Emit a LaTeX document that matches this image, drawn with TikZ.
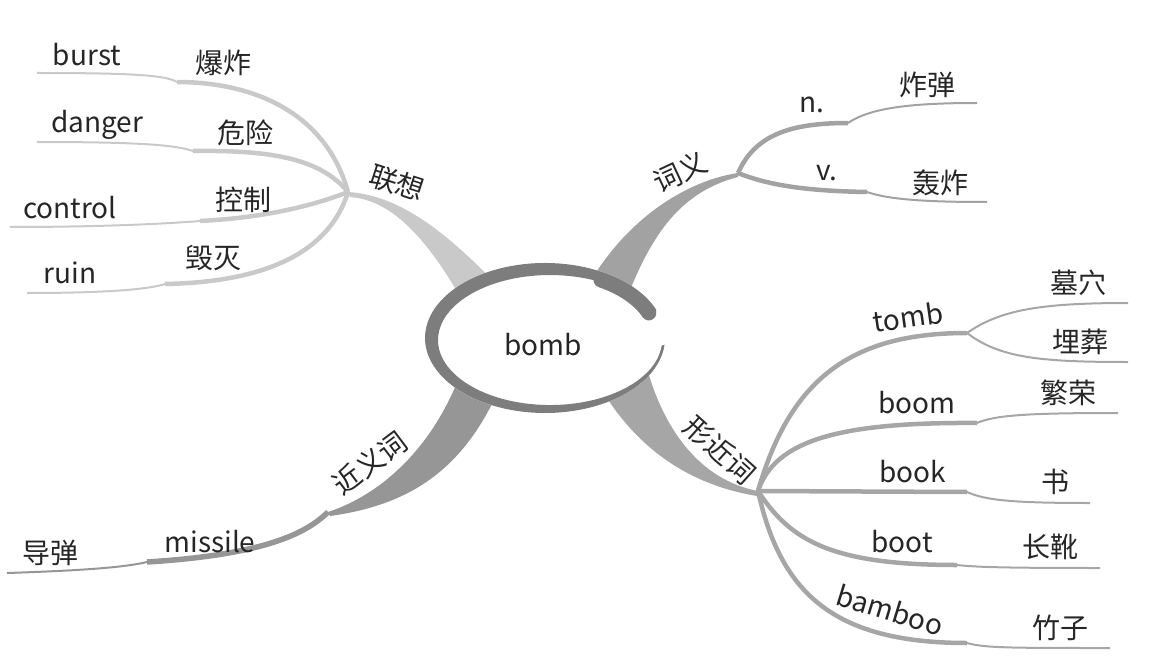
\documentclass[tikz,border=0pt]{standalone}
\usepackage{fontspec}
\setmainfont{Noto Sans CJK SC}
\definecolor{ringgray}{HTML}{7D7D7D}
\definecolor{assoc}{HTML}{C9C9C9}
\definecolor{sense}{HTML}{A2A2A2}
\definecolor{form}{HTML}{A6A6A6}
\definecolor{syn}{HTML}{969696}
\begin{document}
\begin{tikzpicture}[x=1pt, y=-1pt,
    every node/.style={font=\fontsize{28}{30}\selectfont, inner sep=0pt, text=black!85},
    twig/.style={line width=4.5pt},
    tip/.style={line width=2pt}]
    \useasboundingbox (0,0) rectangle (1153,671);

    % 分支点
    \coordinate (lx) at (348,192);
    \coordinate (cy) at (738,173);
    \coordinate (xj) at (758,491);
    \coordinate (jy) at (328,512);
    \coordinate (tb) at (967,333);

    % 主干
    \fill[assoc] (lx) .. controls (395,195) and (440,225) .. (500,288) -- (462,300) .. controls (425,235) and (390,200) .. (350,197) -- cycle;
    \fill[sense] (cy) .. controls (690,180) and (630,215) .. (590,282) -- (628,295) .. controls (652,235) and (680,192) .. (738,177) -- cycle;
    \fill[form] (648,372) .. controls (665,430) and (700,480) .. (xj) -- (757,496) .. controls (690,485) and (640,450) .. (605,395) -- cycle;
    \fill[syn] (jy) .. controls (380,495) and (430,450) .. (458,380) -- (495,398) .. controls (460,470) and (410,505) .. (330,516) -- cycle;

    % 中心
    \fill[white] (545,338) ellipse[x radius=120, y radius=75];
    \fill[ringgray] (656.3,309.9) arc[start angle=-22, end angle=-355, x radius=120, y radius=75] -- (661.6,345.7) arc[start angle=-355, end angle=-22, x radius=112, y radius=65] -- cycle;
    \draw[ringgray, line width=15pt, line cap=round] (601,280) arc[start angle=-60, end angle=-22, x radius=112, y radius=67];
    \node (bomb) at (543,345) {bomb};

    % 联想
    \coordinate (burst-s) at (177,82);   \coordinate (burst-e) at (37,73);
    \coordinate (danger-s) at (193,151); \coordinate (danger-e) at (37,142);
    \coordinate (control-s) at (200,221);\coordinate (control-e) at (10,227);
    \coordinate (ruin-s) at (165,284);   \coordinate (ruin-e) at (27,293);
    \draw[assoc, twig] (lx) .. controls (325,110) and (250,82) .. (burst-s);
    \draw[assoc, tip] (burst-s) .. controls (165,75) and (130,73) .. (burst-e);
    \draw[assoc, twig] (lx) .. controls (320,158) and (270,150) .. (danger-s);
    \draw[assoc, tip] (danger-s) .. controls (175,145) and (140,142) .. (danger-e);
    \draw[assoc, twig] (lx) .. controls (310,207) and (260,218) .. (control-s);
    \draw[assoc, tip] (control-s) .. controls (150,225) and (80,227) .. (control-e);
    \draw[assoc, twig] (lx) .. controls (330,250) and (270,282) .. (ruin-s);
    \draw[assoc, tip] (ruin-s) .. controls (150,289) and (110,293) .. (ruin-e);
    \node[rotate=-18] (assoc) at (397,183) {联想};
    \node (burst) at (87,55) {burst};
    \node (bz) at (223,63) {爆炸};
    \node (danger) at (97,125) {danger};
    \node (wx) at (245,133) {危险};
    \node (control) at (70,208) {control};
    \node (kz) at (243,200) {控制};
    \node (ruin) at (70,273) {ruin};
    \node (hm) at (213,258) {毁灭};

    % 词义
    \coordinate (n-s) at (848,123); \coordinate (n-e) at (977,103);
    \coordinate (v-s) at (867,192); \coordinate (v-e) at (987,202);
    \draw[sense, twig] (cy) .. controls (755,135) and (790,123) .. (n-s);
    \draw[sense, tip] (n-s) .. controls (870,108) and (910,103) .. (n-e);
    \draw[sense, twig] (cy) .. controls (770,186) and (810,191) .. (v-s);
    \draw[sense, tip] (v-s) .. controls (890,200) and (930,202) .. (v-e);
    \node[rotate=25] (sense) at (680,172) {词义};
    \node (n) at (812,105) {n.};
    \node (zd) at (927,85) {炸弹};
    \node (v) at (827,173) {v.};
    \node (hz) at (940,183) {轰炸};

    % 形近词
    \coordinate (mx-e) at (1128,303); \coordinate (mz-e) at (1128,362);
    \coordinate (boom-s) at (977,423); \coordinate (boom-e) at (1118,413);
    \coordinate (book-s) at (967,492); \coordinate (book-e) at (1090,503);
    \coordinate (boot-s) at (957,565); \coordinate (boot-e) at (1100,568);
    \coordinate (bamboo-s) at (967,643); \coordinate (bamboo-e) at (1110,648);
    \draw[form, twig] (xj) .. controls (790,380) and (850,333) .. (tb);
    \draw[form, tip] (tb) .. controls (1000,310) and (1040,303) .. (mx-e);
    \draw[form, tip] (tb) .. controls (1000,358) and (1040,362) .. (mz-e);
    \draw[form, twig] (xj) .. controls (775,440) and (840,422) .. (boom-s);
    \draw[form, tip] (boom-s) .. controls (995,415) and (1030,413) .. (boom-e);
    \draw[form, twig] (xj) -- (book-s);
    \draw[form, tip] (book-s) .. controls (985,500) and (1010,503) .. (book-e);
    \draw[form, twig] (xj) .. controls (790,540) and (830,565) .. (boot-s);
    \draw[form, tip] (boot-s) .. controls (975,567) and (1000,568) .. (boot-e);
    \draw[form, twig] (xj) .. controls (780,590) and (830,643) .. (bamboo-s);
    \draw[form, tip] (bamboo-s) .. controls (985,648) and (1010,648) .. (bamboo-e);
    \node[rotate=-42] (form) at (720,450) {形近词};
    \node[rotate=8] (tomb) at (908,317) {tomb};
    \node (mx) at (1078,283) {墓穴};
    \node (mz) at (1080,342) {埋葬};
    \node (boom) at (917,403) {boom};
    \node (fr) at (1068,393) {繁荣};
    \node (book) at (913,472) {book};
    \node (shu) at (1055,482) {书};
    \node (boot) at (902,542) {boot};
    \node (cx) at (1050,547) {长靴};
    \node[rotate=-17] (bamboo) at (890,610) {bamboo};
    \node (zz) at (1060,628) {竹子};

    % 近义词
    \coordinate (missile-s) at (147,562); \coordinate (missile-e) at (7,573);
    \draw[syn, line width=5.5pt] (jy) .. controls (305,535) and (260,555) .. (missile-s);
    \draw[syn, tip] (missile-s) .. controls (130,566) and (100,570) .. (missile-e);
    \node[rotate=37] (syn) at (370,463) {近义词};
    \node (missile) at (210,542) {missile};
    \node (dd) at (50,553) {导弹};
\end{tikzpicture}
\end{document}
